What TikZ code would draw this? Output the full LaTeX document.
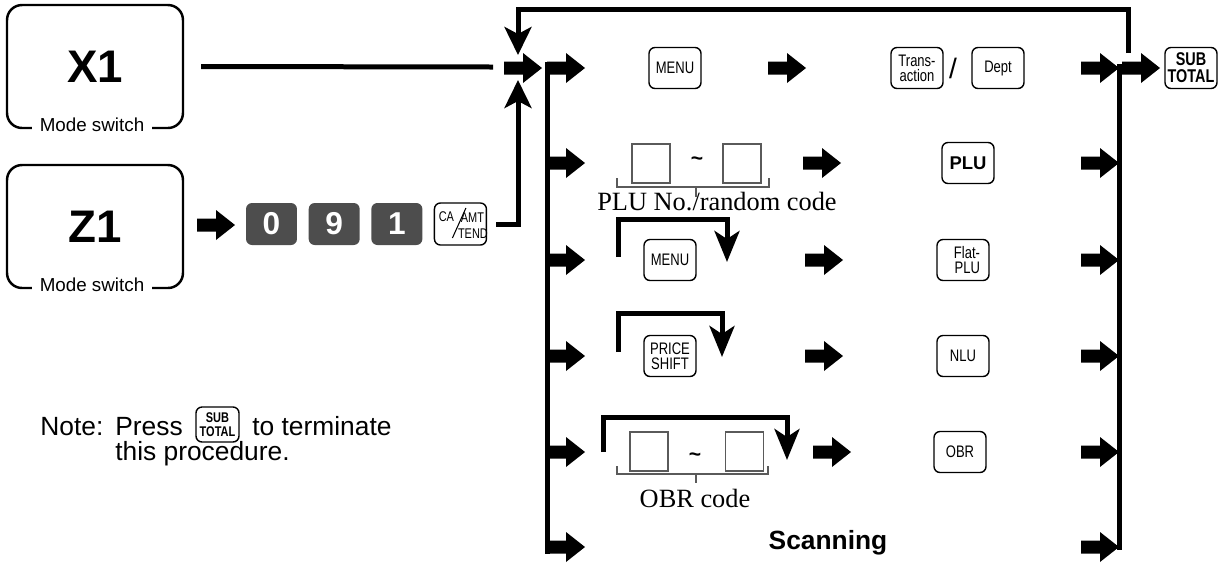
\documentclass[tikz,border=0pt]{standalone}
\usepackage{fontspec}
\setmainfont{Liberation Sans}
\newfontfamily\serifface{Liberation Serif}
\newfontfamily\narrowface[FakeStretch=0.78]{Liberation Sans}
\usetikzlibrary{arrows.meta, positioning}
\definecolor{keygray}{RGB}{77, 77, 77}
\definecolor{codegray}{RGB}{90, 90, 90}

\begin{document}
\begin{tikzpicture}[
    x=0.02cm, y=-0.02cm,
    modebox/.style={draw, line width=1.4pt, rounded corners=0.3cm, minimum width=3.52cm, minimum height=2.46cm, font=\bfseries\fontsize{26}{26}\selectfont},
    modelabel/.style={fill=white, inner xsep=0.16cm, inner ysep=0.06cm, font=\fontsize{10.7}{12}\selectfont},
    key/.style={draw, line width=0.8pt, rounded corners=0.12cm, minimum width=1.04cm, minimum height=0.82cm, inner sep=0pt, align=center, font=\narrowface\fontsize{9.5}{8.4}\selectfont},
    smallkey/.style={key, minimum width=0.86cm, minimum height=0.7cm, font=\narrowface\bfseries\fontsize{8}{7.6}\selectfont},
    digitkey/.style={fill=keygray, rounded corners=0.12cm, minimum width=1.02cm, minimum height=0.84cm, inner sep=0pt, text=white, font=\bfseries\fontsize{18}{18}\selectfont},
    keylabel/.style={inner sep=0pt, font=\narrowface\fontsize{8}{8}\selectfont},
    codebox/.style={draw=codegray, line width=0.6pt, minimum width=0.76cm, minimum height=0.78cm, inner sep=0pt},
    caption/.style={anchor=base, inner sep=0pt, font=\serifface\fontsize{15}{15}\selectfont},
    notetext/.style={anchor=base west, inner sep=0pt, font=\fontsize{15}{15}\selectfont},
    feed/.style={line width=0.1cm},
    feedtip/.style={feed, -{Stealth[length=0.56cm, width=0.54cm, inset=0.14cm]}},
    loopline/.style={line width=0.1cm, -{Stealth[length=0.62cm, width=0.5cm, inset=0.16cm]}},
    bracket/.style={line width=0.6pt, draw=codegray},
    blockarrow/.pic={\fill (0,-6.5) -- (19,-6.5) -- (19,-15) -- (38,0) -- (19,15) -- (19,6.5) -- (0,6.5) -- cycle;}
  ]
    \useasboundingbox (0,0) rectangle (1220,569);

    % mode switch
    \node[modebox] (x1) at (95,66.5) {X1};
    \node[modebox] (z1) at (95,226.5) {Z1};
    \node[modelabel] (x1mode) at ([shift={(-3,-4)}]x1.south) {Mode switch};
    \node[modelabel] (z1mode) at ([shift={(-3,-4)}]z1.south) {Mode switch};

    % Z1 key sequence
    \pic at (197,225) {blockarrow};
    \node[digitkey] (k0) at (271.5,224) {0};
    \node[digitkey, right=0.22cm of k0] (k9) {9};
    \node[digitkey, right=0.22cm of k9] (k1) {1};
    \node[key, minimum height=0.84cm, right=0.22cm of k1] (catend) {};
    \node[keylabel] (ca) at ([shift={(-14,-7)}]catend.center) {CA};
    \node[keylabel] (amt) at ([shift={(12,-6)}]catend.center) {AMT};
    \node[keylabel] (tend) at ([shift={(12.5,10)}]catend.center) {TEND};
    \draw[line width=0.6pt] ([shift={(-8,14)}]catend.center) -- ([shift={(5.5,-16)}]catend.center);

    % joining point
    \coordinate (xend) at (493,67);
    \coordinate (jtop) at (518,55);
    \coordinate (jbot) at (518,80);
    \coordinate (ret) at (1128,53);
    \coordinate (roof) at (518,9);
    \draw[feed] ([xshift=0.34cm]x1.east) -- (xend);
    \draw[feedtip] ([xshift=0.18cm]catend.east) -| (jbot);
    \draw[feedtip] (ret) |- (roof) -- (jtop);
    \pic at (504,68) {blockarrow};

    % buses
    \coordinate (lbusT) at (547,61.5);
    \coordinate (lbusB) at (547,553.5);
    \coordinate (rbusT) at (1119,64);
    \coordinate (rbusB) at (1119,550);
    \draw[feed] (lbusT) -- (lbusB);
    \draw[feed] (rbusT) -- (rbusB);
    \foreach \y in {68,163,260,356,452,547} {
      \pic at (547,\y) {blockarrow};
      \pic at (1081,\y) {blockarrow};
    }

    % row 1
    \node[key] (menu) at (675,68) {MENU};
    \pic at (768,68) {blockarrow};
    \node[key] (trans) at (917,68) {Trans-\\action};
    \node[key] (dept) at (998,68) {Dept};
    \node[font=\fontsize{16}{16}\selectfont] (slash) at (953,68) {/};
    \pic at (1122,68) {blockarrow};
    \node[key, font=\narrowface\bfseries\fontsize{10.5}{9.6}\selectfont] (subtotal) at (1191,68) {SUB\\TOTAL};

    % row 2
    \node[codebox] (plufrom) at (651,163.5) {};
    \node[codebox] (pluto) at (742,163.5) {};
    \node[font=\bfseries\fontsize{12}{12}\selectfont] (plutilde) at (697,161) {\textasciitilde};
    \draw[bracket] (617,178) |- (769,187) -- (769,178);
    \draw[bracket] (696,187) -- (696,197);
    \node[caption] (plucap) at (717,210) {PLU No./random code};
    \pic at (803,163) {blockarrow};
    \node[key, font=\bfseries\fontsize{10.5}{10}\selectfont] (plu) at (968,163) {PLU};

    % row 3
    \draw[loopline] (618,257) |- (727,219) -- (727,262);
    \node[key] (menuflat) at (670,260) {MENU};
    \pic at (805,260) {blockarrow};
    \node[key, text width=0.68cm, align=right] (flatplu) at (963,260) {Flat-\\PLU};

    % row 4
    \draw[loopline] (618,352) |- (722,313) -- (722,357);
    \node[key] (pshift) at (670,356) {PRICE\\SHIFT};
    \pic at (805,356) {blockarrow};
    \node[key] (nlu) at (963,356) {NLU};

    % row 5
    \draw[loopline] (603,452) |- (787,417) -- (787,460);
    \node[codebox] (obrfrom) at (649,451.5) {};
    \node[codebox] (obrto) at (744.5,451.5) {};
    \node[font=\bfseries\fontsize{12}{12}\selectfont] (obrtilde) at (695,457) {\textasciitilde};
    \draw[bracket] (617,466) |- (768,474) -- (768,466);
    \draw[bracket] (696,474) -- (696,483);
    \node[caption] (obrcap) at (695,507) {OBR code};
    \pic at (813,452) {blockarrow};
    \node[key] (obr) at (960,452) {OBR};

    % row 6
    \node[font=\bfseries\fontsize{15}{15}\selectfont] (scan) at (828,543) {Scanning};

    % note
    \node[notetext] (note) at (40,435) {Note:};
    \node[notetext] (press) at (115,435) {Press};
    \node[smallkey] (notekey) at (217.5,424.5) {SUB\\TOTAL};
    \node[notetext] (term) at (252,435) {to terminate};
    \node[notetext] (proc) at (115,460) {this procedure.};
  \end{tikzpicture}
\end{document}
